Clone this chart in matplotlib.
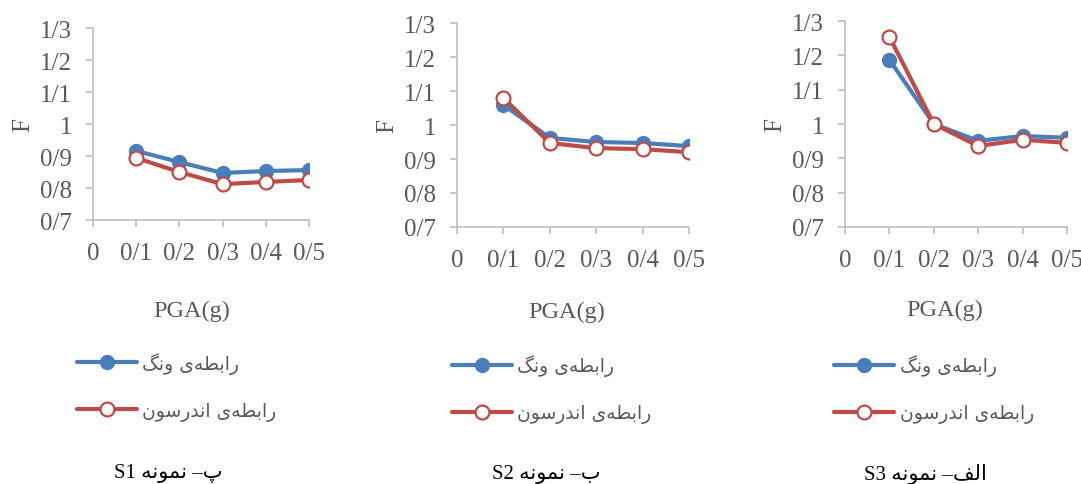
import matplotlib
matplotlib.use("Agg")
import matplotlib.pyplot as plt

# ----------------------------
# data
# ----------------------------
pga = [0.0, 0.1, 0.2, 0.3, 0.4, 0.5]
pga_labels = ["0", "0/1", "0/2", "0/3", "0/4", "0/5"]
y_ticks = [0.7, 0.8, 0.9, 1.0, 1.1, 1.2, 1.3]
y_labels = ["0/7", "0/8", "0/9", "1", "1/1", "1/2", "1/3"]

# panel order left -> right: S1, S2, S3
wang_s1 = [0.916, 0.881, 0.847, 0.853, 0.856]
anderson_s1 = [0.894, 0.850, 0.812, 0.819, 0.825]
wang_s2 = [1.059, 0.962, 0.950, 0.947, 0.938]
anderson_s2 = [1.079, 0.947, 0.932, 0.929, 0.920]
wang_s3 = [1.187, 1.000, 0.951, 0.965, 0.960]
anderson_s3 = [1.254, 1.000, 0.936, 0.954, 0.945]

captions_fa = [("پ", "S1"), ("ب", "S2"), ("الف", "S3")]
wang_fa = "رابطه\u200cی ونگ"
anderson_fa = "رابطه\u200cی اندرسون"
sample_fa = "نمونه"

# ----------------------------
# tiny arabic shaper (matplotlib does no shaping / bidi)
# ----------------------------
FORMS = {
    "ا": (0xFE8D, 0xFE8E, None, None),
    "ب": (0xFE8F, 0xFE90, 0xFE91, 0xFE92),
    "پ": (0xFB56, 0xFB57, 0xFB58, 0xFB59),
    "ط": (0xFEC1, 0xFEC2, 0xFEC3, 0xFEC4),
    "ه": (0xFEE9, 0xFEEA, 0xFEEB, 0xFEEC),
    "ی": (0xFBFC, 0xFBFD, 0xFBFE, 0xFBFF),
    "و": (0xFEED, 0xFEEE, None, None),
    "ن": (0xFEE5, 0xFEE6, 0xFEE7, 0xFEE8),
    "گ": (0xFB92, 0xFB93, 0xFB94, 0xFB95),
    "ر": (0xFEAD, 0xFEAE, None, None),
    "د": (0xFEA9, 0xFEAA, None, None),
    "س": (0xFEB1, 0xFEB2, 0xFEB3, 0xFEB4),
    "م": (0xFEE1, 0xFEE2, 0xFEE3, 0xFEE4),
    "ل": (0xFEDD, 0xFEDE, 0xFEDF, 0xFEE0),
    "ف": (0xFED1, 0xFED2, 0xFED3, 0xFED4),
}


def shape(text):
    out = []
    for i, ch in enumerate(text):
        if ch == "\u200c":
            continue
        if ch not in FORMS:
            out.append(ch)
            continue
        prev = text[i - 1] if i > 0 else ""
        nxt = text[i + 1] if i + 1 < len(text) else ""
        f = FORMS[ch]
        join_prev = prev in FORMS and FORMS[prev][2] is not None
        join_next = nxt in FORMS and f[2] is not None
        if join_prev and join_next:
            code = f[3]
        elif join_prev:
            code = f[1]
        elif join_next:
            code = f[2]
        else:
            code = f[0]
        out.append(chr(code))
    return "".join(reversed(out))


# ----------------------------
# style
# ----------------------------
BLUE = "#4A7EBB"
RED = "#BE4B48"
AXIS = "#BFBFBF"
TXT = "#595959"
SERIF = ["Liberation Serif", "DejaVu Sans"]

fig = plt.figure(figsize=(10.81, 4.85), dpi=100)

panels = [
    dict(rect=[0.0860, 0.5443, 0.1998, 0.3959], wang=wang_s1, anderson=anderson_s1,
         xlab=(0.177, 0.357), leg=(0.064, 0.288), cap=(0.156, 0.023)),
    dict(rect=[0.4228, 0.5299, 0.2146, 0.4206], wang=wang_s2, anderson=anderson_s2,
         xlab=(0.524, 0.355), leg=(0.411, 0.283), cap=(0.505, 0.021)),
    dict(rect=[0.7817, 0.5299, 0.2054, 0.4247], wang=wang_s3, anderson=anderson_s3,
         xlab=(0.874, 0.361), leg=(0.765, 0.283), cap=(0.856, 0.022)),
]

for p, (letter, sname) in zip(panels, captions_fa):
    ax = fig.add_axes(p["rect"])
    l1, = ax.plot(pga[1:], p["wang"], color=BLUE, lw=3, marker="o", ms=10,
                  mfc=BLUE, mec=BLUE, solid_capstyle="round")
    l2, = ax.plot(pga[1:], p["anderson"], color=RED, lw=3, marker="o", ms=10,
                  mfc="white", mec=RED, mew=1.6, solid_capstyle="round")
    ax.set_xlim(0, 0.5)
    ax.set_ylim(0.7, 1.3)
    ax.set_xticks(pga)
    ax.set_xticklabels(pga_labels)
    ax.set_yticks(y_ticks)
    ax.set_yticklabels(y_labels)
    for s in ["top", "right"]:
        ax.spines[s].set_visible(False)
    for s in ["left", "bottom"]:
        ax.spines[s].set_color(AXIS)
        ax.spines[s].set_linewidth(1.2)
    ax.tick_params(colors=AXIS, labelcolor=TXT, length=5, width=1.2, labelsize=18)
    ax.tick_params(axis="x", pad=11)
    ax.tick_params(axis="y", pad=10)
    for t in ax.get_xticklabels() + ax.get_yticklabels():
        t.set_family(SERIF)
    ax.set_ylabel("F", family=SERIF, fontsize=18, color=TXT, labelpad=4)
    ax.patch.set_alpha(0)

    fig.text(p["xlab"][0], p["xlab"][1], "PGA(g)", family=SERIF, fontsize=17.5,
             color=TXT, ha="center", va="center")

    ax.legend([l1, l2], [shape(wang_fa), shape(anderson_fa)],
              loc="upper left", bbox_to_anchor=p["leg"], bbox_transform=fig.transFigure,
              frameon=False, handlelength=3.2, handletextpad=0.3, labelspacing=1.45,
              prop=dict(family="DejaVu Sans", size=13.5), labelcolor=TXT,
              borderaxespad=0)

    cap = sname + " " + shape(sample_fa) + " \u2013" + shape(letter)
    fig.text(p["cap"][0], p["cap"][1], cap, family=SERIF, fontsize=15,
             color="black", ha="center", va="center")

fig.savefig("out.png", dpi=100)
